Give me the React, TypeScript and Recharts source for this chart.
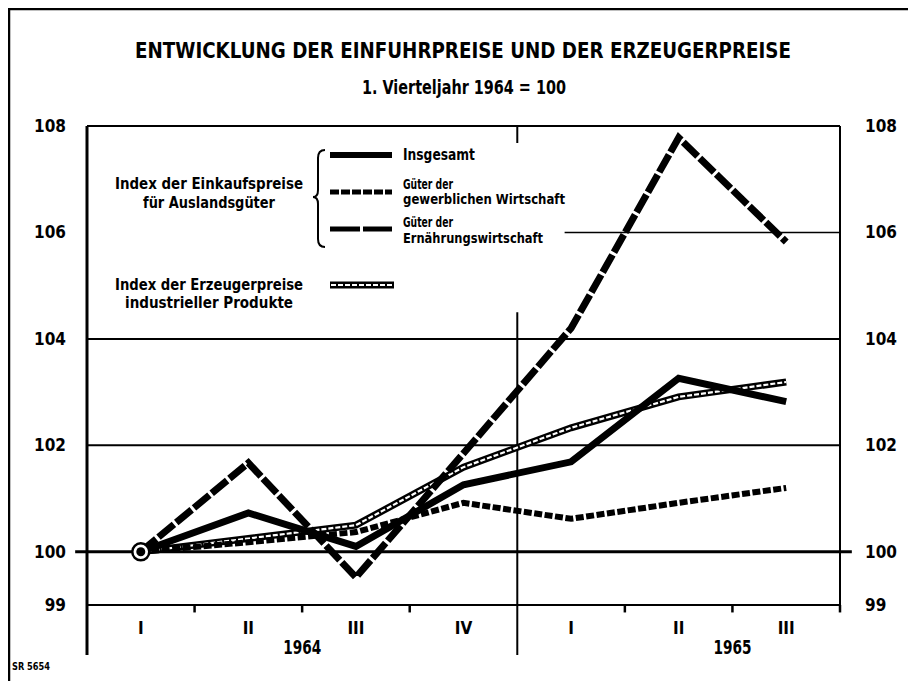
import React from 'react';
import { ComposedChart, Line, XAxis, YAxis, ReferenceLine } from 'recharts';

// quarters 1964/65, 1. Vierteljahr 1964 = 100
const quarters = ['1964-I', '1964-II', '1964-III', '1964-IV', '1965-I', '1965-II', '1965-III'];
const quarterLabels = ['I', 'II', 'III', 'IV', 'I', 'II', 'III'];

const insgesamt = [100, 100.73, 100.1, 101.26, 101.69, 103.26, 102.82];
const gewerblich = [100, 100.18, 100.37, 100.92, 100.62, 100.92, 101.2];
const ernaehrung = [100, 101.67, 99.52, 101.85, 104.2, 107.78, 105.82];
const erzeuger = [100, 100.25, 100.5, 101.59, 102.33, 102.91, 103.19];

const yTicks = [99, 100, 102, 104, 106, 108];

// each quarter sits in the middle of its slot on a 0..N scale
const N = quarters.length;
const data = quarters.map((q, i) => ({
  q,
  pos: i + 0.5,
  insgesamt: insgesamt[i],
  gewerblich: gewerblich[i],
  ernaehrung: ernaehrung[i],
  erzeuger: erzeuger[i],
}));
const xTicks = data.map((d) => d.pos);

const W = 908;
const H = 673;
const LEFT = 79;
const RIGHT = 76;
const TOP = 118;
const BOTTOM = 76;
const bandHalf = (W - LEFT - RIGHT) / N / 2;

const FONT = '"Liberation Sans Narrow", "DejaVu Sans Condensed", "Liberation Sans", sans-serif';
const txt = { fontFamily: FONT, fontWeight: 700, fill: '#000' } as const;

const QuarterTick = (props: any) => {
  const { x, y, payload } = props;
  const i = Math.floor(payload.value);
  const q = quarters[i] ?? '';
  const showYear = q.endsWith('-II');
  return (
    <g>
      <text x={x} y={y + 29} textAnchor="middle" fontSize={17} {...txt}>
        {quarterLabels[i]}
      </text>
      {showYear && (
        <text x={x + bandHalf} y={y + 49} textAnchor="middle" fontSize={19} textLength={38} lengthAdjust="spacingAndGlyphs" {...txt}>
          {q.slice(0, 4)}
        </text>
      )}
    </g>
  );
};

const startDot = (props: any) => {
  const { cx, cy, index } = props;
  if (index !== 0) return <g key={`d${index}`} />;
  return (
    <g key={`d${index}`}>
      <circle cx={cx} cy={cy} r={8.5} fill="#fff" stroke="#000" strokeWidth={2.5} />
      <circle cx={cx} cy={cy} r={4.5} fill="#000" />
    </g>
  );
};

const seg = (x1: number, y1: number, x2: number, y2: number) => [
  { x: x1, y: y1 },
  { x: x2, y: y2 },
];

const boundaries = [1, 2, 3, 5, 6, 7];

const legendLeft = [
  { text: 'Index der Einkaufspreise', y: 181, len: 188 },
  { text: 'für Auslandsgüter', y: 200, len: 132 },
  { text: 'Index der Erzeugerpreise', y: 282, len: 188 },
  { text: 'industrieller Produkte', y: 300, len: 168 },
];

const legendRight = [
  { text: 'Insgesamt', y: 152, len: 72, size: 15 },
  { text: 'Güter der', y: 181, len: 50, size: 13.5 },
  { text: 'gewerblichen Wirtschaft', y: 196, len: 162, size: 13.5 },
  { text: 'Güter der', y: 219, len: 50, size: 13.5 },
  { text: 'Ernährungswirtschaft', y: 235, len: 140, size: 14.5 },
];

export default function App() {
  return (
    <div style={{ position: 'relative', width: W, height: H, background: '#fff' }}>
      <ComposedChart
        width={W}
        height={H}
        data={data}
        margin={{ top: TOP, right: 0, bottom: 0, left: 0 }}
      >
        <XAxis
          dataKey="pos"
          type="number"
          domain={[0, N]}
          allowDataOverflow
          ticks={xTicks}
          interval={0}
          height={BOTTOM}
          tickLine={false}
          tickSize={0}
          tickMargin={0}
          axisLine={{ stroke: '#000', strokeWidth: 2 }}
          tick={<QuarterTick />}
        />
        <YAxis
          domain={[99, 108]}
          ticks={yTicks}
          interval={0}
          allowDataOverflow
          width={LEFT}
          tickLine={false}
          tickSize={0}
          tickMargin={21}
          axisLine={{ stroke: '#000', strokeWidth: 3 }}
          tick={{ ...txt, fontSize: 17 }}
        />
        <YAxis
          yAxisId="r"
          orientation="right"
          domain={[99, 108]}
          ticks={yTicks}
          interval={0}
          allowDataOverflow
          width={RIGHT}
          tickLine={false}
          tickSize={0}
          tickMargin={25}
          axisLine={{ stroke: '#000', strokeWidth: 2 }}
          tick={{ ...txt, fontSize: 17, textAnchor: 'start' }}
        />

        <ReferenceLine segment={seg(0, 108, N, 108)} stroke="#000" strokeWidth={2} ifOverflow="visible" />
        <ReferenceLine segment={seg(0, 104, N, 104)} stroke="#000" strokeWidth={2} ifOverflow="visible" />
        <ReferenceLine segment={seg(0, 102, N, 102)} stroke="#000" strokeWidth={2} ifOverflow="visible" />
        <ReferenceLine segment={seg(4.44, 106, N, 106)} stroke="#000" strokeWidth={1.5} ifOverflow="visible" />
        <ReferenceLine segment={seg(-0.11, 100, N + 0.11, 100)} stroke="#000" strokeWidth={3} ifOverflow="visible" />
        <ReferenceLine segment={seg(0, 99, 0, 98.06)} stroke="#000" strokeWidth={3} ifOverflow="visible" />
        <ReferenceLine segment={seg(4, 98.06, 4, 104.5)} stroke="#000" strokeWidth={2} ifOverflow="visible" />
        <ReferenceLine segment={seg(4, 108, 4, 107.68)} stroke="#000" strokeWidth={2} ifOverflow="visible" />
        {boundaries.map((b) => (
          <ReferenceLine
            key={`b${b}`}
            segment={seg(b, 99, b, 98.86)}
            stroke="#000"
            strokeWidth={2.5}
            ifOverflow="visible"
          />
        ))}

        <Line dataKey="erzeuger" stroke="#000" strokeWidth={7} dot={false} isAnimationActive={false} />
        <Line dataKey="erzeuger" stroke="#fff" strokeWidth={2.2} strokeDasharray="5 2" dot={false} isAnimationActive={false} />
        <Line dataKey="gewerblich" stroke="#000" strokeWidth={6} strokeDasharray="8 2.5" dot={false} isAnimationActive={false} />
        <Line dataKey="insgesamt" stroke="#000" strokeWidth={7} dot={false} isAnimationActive={false} />
        <Line dataKey="ernaehrung" stroke="#000" strokeWidth={7} strokeDasharray="20 3" dot={startDot} isAnimationActive={false} />
      </ComposedChart>

      <svg
        width={W}
        height={H}
        style={{ position: 'absolute', left: 0, top: 0, pointerEvents: 'none' }}
      >
        <line x1={1} y1={0} x2={1} y2={H} stroke="#000" strokeWidth={2.5} />
        <line x1={0} y1={1} x2={W} y2={1} stroke="#000" strokeWidth={2.5} />

        <text x={455} y={50} textAnchor="middle" fontSize={21} textLength={656} lengthAdjust="spacingAndGlyphs" {...txt}>
          ENTWICKLUNG DER EINFUHRPREISE UND DER ERZEUGERPREISE
        </text>
        <text x={456} y={86} textAnchor="middle" fontSize={19} textLength={204} lengthAdjust="spacingAndGlyphs" {...txt}>
          1. Vierteljahr 1964 = 100
        </text>

        {legendLeft.map((l, i) => (
          <text key={`ll${i}`} x={201} y={l.y} textAnchor="middle" fontSize={16} textLength={l.len} lengthAdjust="spacingAndGlyphs" {...txt}>
            {l.text}
          </text>
        ))}
        {legendRight.map((l, i) => (
          <text key={`lr${i}`} x={395} y={l.y} fontSize={l.size} textLength={l.len} lengthAdjust="spacingAndGlyphs" {...txt}>
            {l.text}
          </text>
        ))}

        <path
          d="M317,142 Q310,142 310,150 L310,182 Q310,189 305,189 Q310,189 310,196 L310,231 Q310,239 317,239"
          fill="none"
          stroke="#000"
          strokeWidth={2}
        />
        <line x1={322} y1={147} x2={384} y2={147} stroke="#000" strokeWidth={6} />
        <line x1={322} y1={184} x2={384} y2={184} stroke="#000" strokeWidth={5} strokeDasharray="9 2" />
        <line x1={322} y1={221} x2={384} y2={221} stroke="#000" strokeWidth={5} strokeDasharray="30 3" />
        <line x1={322} y1={277} x2={386} y2={277} stroke="#000" strokeWidth={7} />
        <line x1={323} y1={277} x2={385} y2={277} stroke="#fff" strokeWidth={2.2} strokeDasharray="5 2" />

        <text x={4} y={662} fontSize={10} textLength={38} lengthAdjust="spacingAndGlyphs" {...txt}>
          SR 5654
        </text>
      </svg>
    </div>
  );
}
